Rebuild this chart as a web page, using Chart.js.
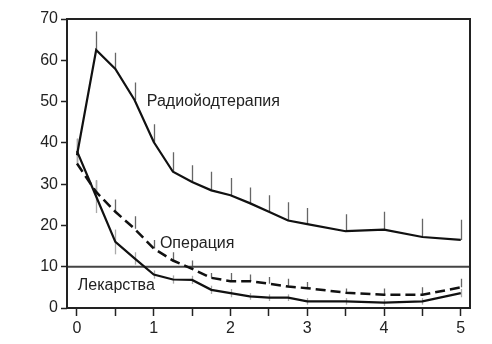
<!DOCTYPE html>
<html>
<head>
<meta charset="utf-8">
<script src="https://cdn.jsdelivr.net/npm/chart.js@4/dist/chart.umd.min.js"></script>
<style>
  body { margin: 0; background: #fff; }
</style>
</head>
<body>
<canvas id="myChart" width="492" height="344"></canvas>
<script>
// years after treatment
var times = [0, 0.25, 0.5, 0.75, 1, 1.25, 1.5, 1.75, 2, 2.25, 2.5, 2.75, 3, 3.5, 4, 4.5, 5];

var radio = [37, 62.5, 57.9, 50.4, 40.2, 33, 30.5, 28.5, 27.3, 25.4, 23.3, 21.2, 20.3, 18.6, 19, 17.2, 16.5];
var radioTop = [41, 67, 61.8, 54.6, 44.5, 37.7, 34.6, 33, 31.5, 29.2, 27.3, 25.6, 24.2, 22.7, 23.3, 21.6, 21.4];

var surgery = [35, 28.1, 23.3, 19.2, 14.4, 11.5, 9.5, 7.3, 6.5, 6.5, 5.9, 5.2, 4.8, 3.7, 3.2, 3.2, 5];
var surgeryTop = [38, 30.9, 26.3, 22.2, 16.5, 13.5, 11.5, 8.5, 8.5, 8.1, 7.5, 7.1, 6.3, 4.7, 4.7, 5, 7.1];

var drugs = [38, 27, 16, 12, 8.1, 6.9, 6.8, 4.4, 3.6, 2.8, 2.5, 2.5, 1.6, 1.6, 1.3, 1.6, 3.6];
var drugsErr = [3, 4, 3, 1.5, 1, 1, 1, 1, 1, 0.8, 0.8, 0.8, 0.8, 0.8, 0.8, 0.8, 1];

var xTicks = [0, 1, 2, 3, 4, 5];
var yTicks = [0, 10, 20, 30, 40, 50, 60, 70];
var threshold = 10;

// label text and anchor (data units)
var labels = [
  { text: 'Радиойодтерапия', x: 0.91, y: 50.1 },
  { text: 'Операция', x: 1.08, y: 15.6 },
  { text: 'Лекарства', x: 0.01, y: 5.4 }
];

function pts(ys) {
  return times.map(function (t, i) { return { x: t, y: ys[i] }; });
}

var FONT = '"Liberation Sans", Arial, sans-serif';

var extras = {
  id: 'extras',
  beforeDatasetsDraw: function (chart) {
    var c = chart.ctx, xs = chart.scales.x, ys = chart.scales.y;
    c.save();
    // error bars
    c.lineWidth = 1.3;
    c.strokeStyle = '#666';
    times.forEach(function (t, i) {
      var px = Math.round(xs.getPixelForValue(t)) + 0.5;
      c.beginPath();
      c.moveTo(px, ys.getPixelForValue(radio[i]));
      c.lineTo(px, ys.getPixelForValue(radioTop[i]));
      c.moveTo(px, ys.getPixelForValue(surgery[i]));
      c.lineTo(px, ys.getPixelForValue(surgeryTop[i]));
      c.stroke();
    });
    c.strokeStyle = '#aaa';
    times.forEach(function (t, i) {
      var px = Math.round(xs.getPixelForValue(t)) + 0.5;
      c.beginPath();
      c.moveTo(px, ys.getPixelForValue(drugs[i] - drugsErr[i]));
      c.lineTo(px, ys.getPixelForValue(drugs[i] + drugsErr[i]));
      c.stroke();
    });
    // threshold line
    var a = chart.chartArea;
    var py = ys.getPixelForValue(threshold);
    c.strokeStyle = '#444';
    c.lineWidth = 2;
    c.beginPath();
    c.moveTo(a.left, py);
    c.lineTo(a.right, py);
    c.stroke();
    c.restore();
  },
  afterDraw: function (chart) {
    var c = chart.ctx, xs = chart.scales.x, ys = chart.scales.y, a = chart.chartArea;
    c.save();
    c.strokeStyle = '#222';
    c.lineWidth = 2;
    c.strokeRect(a.left, a.top, a.right - a.left, a.bottom - a.top);
    c.font = '16px ' + FONT;
    c.fillStyle = '#222';
    c.textBaseline = 'middle';
    c.textAlign = 'left';
    labels.forEach(function (l) {
      c.fillText(l.text, xs.getPixelForValue(l.x), ys.getPixelForValue(l.y));
    });
    c.restore();
  }
};

var ctx = document.getElementById('myChart').getContext('2d');
var myChart = new Chart(ctx, {
  type: 'line',
  data: {
    datasets: [
      {
        label: 'Радиойодтерапия',
        data: pts(radio),
        borderColor: '#111',
        borderWidth: 2.2,
        pointRadius: 0
      },
      {
        label: 'Операция',
        data: pts(surgery),
        borderColor: '#111',
        borderWidth: 2.5,
        borderDash: [10, 5],
        pointRadius: 0
      },
      {
        label: 'Лекарства',
        data: pts(drugs),
        borderColor: '#111',
        borderWidth: 2.2,
        pointRadius: 0
      }
    ]
  },
  options: {
    responsive: false,
    animation: false,
    layout: { padding: { top: 19, right: 22, left: 0, bottom: 0 } },
    plugins: {
      legend: { display: false },
      tooltip: { enabled: false }
    },
    scales: {
      x: {
        type: 'linear',
        min: -0.13,
        max: 5.12,
        afterFit: function (s) { s.height = 36; },
        afterBuildTicks: function (s) {
          var t = [];
          for (var v = 0; v <= 5; v += 0.5) t.push({ value: v });
          s.ticks = t;
        },
        ticks: {
          autoSkip: false,
          maxRotation: 0,
          padding: 3,
          color: '#222',
          font: { size: 16, family: FONT },
          callback: function (v) { return xTicks.indexOf(v) >= 0 ? String(v) : ''; }
        },
        grid: { drawOnChartArea: false, tickLength: 8, color: '#222', tickWidth: 1.5 },
        border: { display: false }
      },
      y: {
        min: 0,
        max: 70,
        afterFit: function (s) { s.width = 67; },
        afterBuildTicks: function (s) {
          s.ticks = yTicks.map(function (v) { return { value: v }; });
        },
        ticks: {
          padding: 3,
          color: '#222',
          font: { size: 16, family: FONT }
        },
        grid: { drawOnChartArea: false, tickLength: 6, color: '#222', tickWidth: 1.5 },
        border: { display: false }
      }
    }
  },
  plugins: [extras]
});
</script>
</body>
</html>
